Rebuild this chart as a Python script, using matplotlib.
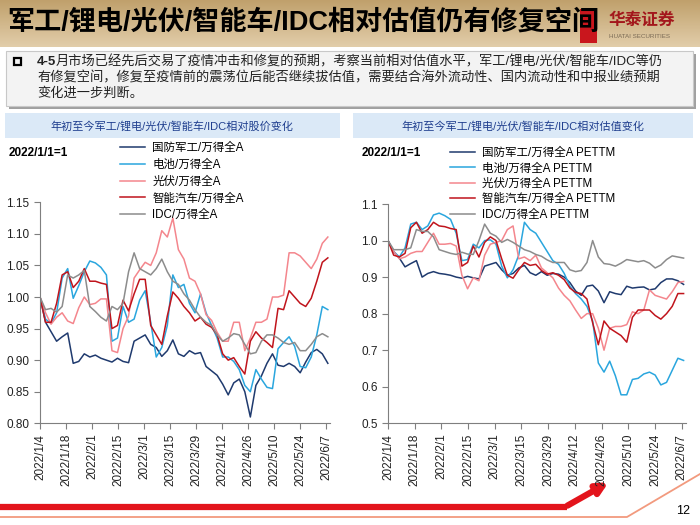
import numpy as np
import pandas as pd
import matplotlib
matplotlib.use('Agg')
import matplotlib.pyplot as plt
from matplotlib.patches import Rectangle

plt.rcParams['font.family'] = ['Liberation Sans', 'Noto Sans CJK SC']
plt.rcParams['axes.unicode_minus'] = False

# 数据：约每3天取一个点
dates = pd.date_range('2022-01-04', '2022-06-08', periods=53)

tick_labels = ['2022/1/4', '2022/1/18', '2022/2/1', '2022/2/15', '2022/3/1', '2022/3/15',
               '2022/3/29', '2022/4/12', '2022/4/26', '2022/5/10', '2022/5/24', '2022/6/7']

names_price = ['国防军工/万得全A', '电池/万得全A', '光伏/万得全A', '智能汽车/万得全A', 'IDC/万得全A']
names_pe = ['国防军工/万得全A PETTM', '电池/万得全A PETTM', '光伏/万得全A PETTM',
            '智能汽车/万得全A PETTM', 'IDC/万得全A PETTM']
colors = ['#1f3a6e', '#2aa6de', '#f4868d', '#c0141c', '#8c8c8c']

# 相对股价
price_jungong = [1.00, 0.96, 0.945, 0.93, 0.937, 0.943, 0.895, 0.898, 0.91, 0.905, 0.908, 0.903, 0.90,
                 0.897, 0.903, 0.898, 0.896, 0.93, 0.935, 0.94, 0.925, 0.92, 0.906, 0.915, 0.932, 0.91,
                 0.906, 0.915, 0.91, 0.912, 0.89, 0.883, 0.876, 0.862, 0.845, 0.864, 0.87, 0.85, 0.81,
                 0.86, 0.875, 0.895, 0.91, 0.892, 0.89, 0.895, 0.89, 0.88, 0.897, 0.912, 0.917, 0.91, 0.895]
price_battery = [1.00, 0.965, 0.958, 0.975, 1.03, 1.045, 0.998, 1.018, 1.04, 1.057, 1.054, 1.047, 1.035,
                 0.93, 0.935, 0.985, 0.96, 0.965, 0.995, 1.01, 0.96, 0.905, 0.92, 0.955, 1.035, 1.015,
                 1.02, 0.99, 0.975, 1.005, 0.975, 0.955, 0.935, 0.905, 0.905, 0.898, 0.885, 0.86, 0.85,
                 0.885, 0.87, 0.857, 0.855, 0.918, 0.928, 0.937, 0.922, 0.89, 0.888, 0.905, 0.94, 0.985, 0.98]
price_pv = [1.00, 0.975, 0.957, 0.968, 0.975, 0.962, 0.958, 0.983, 1.00, 0.988, 0.99, 0.997, 0.997,
            0.915, 0.912, 0.95, 0.97, 1.03, 1.043, 1.055, 1.05, 1.07, 1.105, 1.095, 1.125, 1.075,
            1.06, 1.03, 1.025, 1.005, 0.972, 0.963, 0.944, 0.93, 0.93, 0.96, 0.96, 0.915, 0.935,
            0.96, 0.96, 0.965, 1.00, 1.00, 1.003, 1.07, 1.07, 1.065, 1.055, 1.045, 1.06, 1.085, 1.095]
price_car = [1.00, 0.96, 0.96, 0.99, 1.035, 1.04, 1.015, 1.025, 1.045, 1.025, 1.025, 1.022, 1.02,
             0.95, 0.955, 0.995, 0.978, 1.005, 1.028, 1.028, 0.955, 0.94, 0.925, 0.97, 1.008, 0.998,
             0.985, 0.975, 0.962, 0.968, 0.957, 0.952, 0.94, 0.91, 0.90, 0.904, 0.89, 0.878, 0.93,
             0.945, 0.935, 0.928, 0.92, 0.982, 0.98, 1.01, 1.00, 0.99, 0.985, 0.998, 1.025, 1.055, 1.062]
price_idc = [1.00, 0.98, 0.982, 0.976, 0.985, 1.035, 1.03, 1.035, 1.042, 0.985, 0.977, 0.968, 0.962,
             0.985, 0.98, 0.99, 1.04, 1.07, 1.045, 1.04, 1.035, 1.045, 1.06, 1.04, 1.025, 1.02,
             1.005, 0.995, 0.98, 0.968, 0.96, 0.955, 0.94, 0.93, 0.935, 0.942, 0.94, 0.925, 0.91,
             0.912, 0.93, 0.94, 0.94, 0.935, 0.928, 0.925, 0.928, 0.915, 0.915, 0.925, 0.937, 0.942, 0.937]

# 相对估值 PETTM
pe_jungong = [1.00, 0.97, 0.952, 0.928, 0.937, 0.945, 0.90, 0.91, 0.915, 0.91, 0.908, 0.905, 0.90,
              0.897, 0.902, 0.898, 0.895, 0.93, 0.935, 0.94, 0.92, 0.905, 0.91, 0.925, 0.932, 0.912,
              0.905, 0.915, 0.905, 0.91, 0.908, 0.90, 0.885, 0.862, 0.85, 0.875, 0.878, 0.862, 0.83,
              0.86, 0.855, 0.852, 0.875, 0.87, 0.872, 0.873, 0.865, 0.868, 0.885, 0.895, 0.895, 0.89, 0.88]
pe_battery = [1.00, 0.97, 0.955, 0.98, 1.045, 1.05, 1.03, 1.04, 1.07, 1.075, 1.068, 1.058, 1.02,
              0.945, 0.948, 0.99, 0.98, 1.00, 1.002, 0.99, 0.93, 0.898, 0.92, 0.96, 1.05, 1.03,
              1.02, 0.995, 0.97, 0.945, 0.935, 0.91, 0.875, 0.855, 0.84, 0.82, 0.78, 0.665, 0.64,
              0.67, 0.63, 0.578, 0.578, 0.62, 0.623, 0.635, 0.64, 0.632, 0.605, 0.612, 0.645, 0.678, 0.672]
pe_pv = [1.00, 0.97, 0.95, 0.955, 0.965, 0.97, 0.97, 0.995, 1.02, 0.99, 0.99, 0.992, 0.985,
         0.905, 0.868, 0.898, 0.89, 0.96, 0.99, 0.995, 1.00, 1.03, 1.04, 0.95, 0.955, 0.945,
         0.96, 0.925, 0.912, 0.898, 0.87, 0.85, 0.835, 0.81, 0.787, 0.80, 0.80, 0.76, 0.70,
         0.76, 0.765, 0.765, 0.77, 0.805, 0.80, 0.81, 0.865, 0.85, 0.845, 0.84, 0.86, 0.885, 0.888]
pe_car = [1.00, 0.96, 0.955, 0.965, 1.035, 1.05, 1.02, 1.03, 1.05, 1.04, 1.038, 1.033, 1.03,
          0.93, 0.94, 0.985, 0.955, 0.995, 1.01, 1.00, 0.95, 0.905, 0.897, 0.92, 0.94, 0.932,
          0.935, 0.918, 0.908, 0.912, 0.905, 0.893, 0.87, 0.858, 0.855, 0.84, 0.775, 0.715, 0.78,
          0.76, 0.75, 0.74, 0.722, 0.79, 0.81, 0.81, 0.81, 0.795, 0.785, 0.80, 0.82, 0.855, 0.855]
pe_idc = [1.00, 0.975, 0.975, 0.975, 0.98, 1.03, 1.025, 1.025, 1.01, 0.975, 0.97, 0.965, 0.962,
          0.968, 0.963, 0.962, 1.00, 1.045, 1.02, 1.012, 0.995, 1.003, 0.995, 0.985, 0.975, 0.97,
          0.962, 0.957, 0.947, 0.94, 0.94, 0.94, 0.92, 0.915, 0.918, 0.94, 1.00, 0.955, 0.937,
          0.935, 0.93, 0.938, 0.948, 0.945, 0.942, 0.945, 0.938, 0.925, 0.933, 0.948, 0.958, 0.955, 0.952]

price_series = [price_jungong, price_battery, price_pv, price_car, price_idc]
pe_series = [pe_jungong, pe_battery, pe_pv, pe_car, pe_idc]

W, H = 700, 525
fig = plt.figure(figsize=(7, 5.25), dpi=100)


def px_axes(x0, y0, x1, y1):
    return fig.add_axes([x0 / W, 1 - y1 / H, (x1 - x0) / W, (y1 - y0) / H])


# 背景层（像素坐标）
bg = fig.add_axes([0, 0, 1, 1])
bg.set_zorder(0)
top_c = np.array([192, 160, 108]) / 255
bot_c = np.array([226, 206, 170]) / 255
t = np.linspace(0, 1, 60)[:, None, None]
grad = top_c * (1 - t) + bot_c * t
bg.imshow(grad, extent=[0, W, 47, 0], aspect='auto')
bg.set_xlim(0, W)
bg.set_ylim(H, 0)
bg.axis('off')

bg.add_patch(Rectangle((580, 9), 17, 34, facecolor='#c9161d', edgecolor='none', zorder=2))
bg.text(7, 23, '军工/锂电/光伏/智能车/IDC相对估值仍有修复空间', fontsize=19.5,
        fontweight='bold', va='center', ha='left', color='black', zorder=3)
bg.text(609, 20, '华泰证券', fontsize=12, fontweight='bold', color='#a3171c', va='center')
bg.text(609, 37, 'HUATAI SECURITIES', fontsize=4.5, color='#7a6a55', va='center')

# 文字框
bg.add_patch(Rectangle((9, 54), 687, 55, facecolor='#a0a0a0', edgecolor='none'))
bg.add_patch(Rectangle((6, 51), 687, 55, facecolor='#f3f3f3', edgecolor='#c8c8c8', lw=0.8))
bg.add_patch(Rectangle((14, 58), 7, 7, fill=False, edgecolor='black', lw=1.6))
bg.text(37, 62, '4-5', fontsize=9.5, fontweight='bold', va='center', color='#222222')
bg.text(56, 62, '月市场已经先后交易了疫情冲击和修复的预期，考察当前相对估值水平，军工/锂电/光伏/智能车/IDC等仍',
        fontsize=9.5, va='center', color='#222222')
bg.text(37, 78, '有修复空间，修复至疫情前的震荡位后能否继续拔估值，需要结合海外流动性、国内流动性和中报业绩预期',
        fontsize=9.5, va='center', color='#222222')
bg.text(37, 94, '变化进一步判断。', fontsize=9.5, va='center', color='#222222')

# 图表标题条
bg.add_patch(Rectangle((5, 113), 335, 25, facecolor='#dbe9f7', edgecolor='none'))
bg.add_patch(Rectangle((353, 113), 340, 25, facecolor='#dbe9f7', edgecolor='none'))
bg.text(172, 126, '年初至今军工/锂电/光伏/智能车/IDC相对股价变化', fontsize=8,
        color='#203f8f', ha='center', va='center')
bg.text(523, 126, '年初至今军工/锂电/光伏/智能车/IDC相对估值变化', fontsize=8,
        color='#203f8f', ha='center', va='center')
bg.text(9, 153, '2022/1/1=1', fontsize=8.5, fontweight='bold', va='center')
bg.text(362, 153, '2022/1/1=1', fontsize=8.5, fontweight='bold', va='center')

# 底部装饰
bg.plot([0, 567], [507, 507], color='#e3141c', lw=4.5, solid_capstyle='butt')
bg.annotate('', xy=(611, 481), xytext=(565, 507),
            arrowprops=dict(arrowstyle='-|>', lw=4.5, color='#e3141c', mutation_scale=16))
bg.plot([0, 627, 700], [517, 517, 474], color='#f29a7e', lw=1.3)
bg.text(683, 511, '12', fontsize=9, ha='center', va='center')

tick_dates = pd.to_datetime(tick_labels, format='%Y/%m/%d')


def style_axes(ax, ylo, yhi, step, fmt):
    ax.set_xlim(pd.Timestamp('2022-01-04'), pd.Timestamp('2022-06-09'))
    ax.set_ylim(ylo, yhi)
    yt = np.arange(ylo, yhi + step / 2, step)
    ax.set_yticks(yt)
    ax.set_yticklabels([fmt.format(v) for v in yt])
    ax.set_xticks(tick_dates)
    ax.set_xticklabels(tick_labels, rotation=90)
    for s in ['top', 'right']:
        ax.spines[s].set_visible(False)
    for s in ['left', 'bottom']:
        ax.spines[s].set_color('#7f7f7f')
        ax.spines[s].set_linewidth(0.8)
    ax.tick_params(length=4, width=0.8, color='#7f7f7f', labelsize=8.5, labelcolor='#222222')
    ax.patch.set_alpha(0)


ax1 = px_axes(40, 202.3, 329.7, 423.3)
for vals, c, n in zip(price_series, colors, names_price):
    ax1.plot(dates, vals, color=c, lw=1.1, label=n)
style_axes(ax1, 0.80, 1.15, 0.05, '{:.2f}')
ax1.legend(loc='upper left', bbox_to_anchor=(120 / W, 1 - 142 / H), bbox_transform=fig.transFigure,
           frameon=False, fontsize=8.3, handlelength=2.2, labelspacing=0.42, borderaxespad=0,
           handletextpad=0.6, borderpad=0)

ax2 = px_axes(388, 204, 685.5, 423.3)
for vals, c, n in zip(pe_series, colors, names_pe):
    ax2.plot(dates, vals, color=c, lw=1.1, label=n)
style_axes(ax2, 0.5, 1.1, 0.1, '{:.1f}')
ax2.legend(loc='upper left', bbox_to_anchor=(450 / W, 1 - 147 / H), bbox_transform=fig.transFigure,
           frameon=False, fontsize=8.3, handlelength=2.2, labelspacing=0.3, borderaxespad=0,
           handletextpad=0.6, borderpad=0)

fig.savefig('out.png', dpi=100)
